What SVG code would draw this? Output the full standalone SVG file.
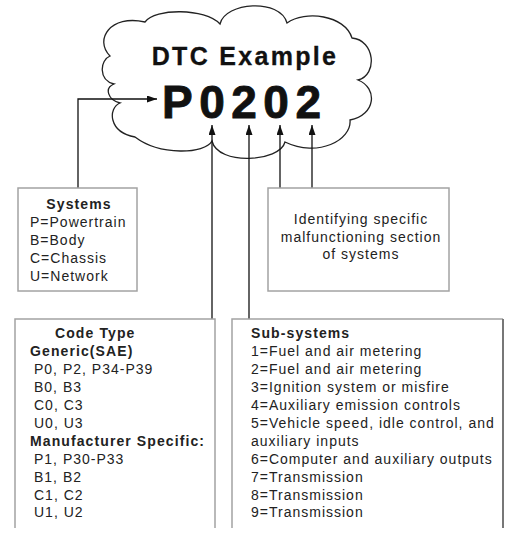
<svg xmlns="http://www.w3.org/2000/svg" width="514" height="538" viewBox="0 0 514 538">
<style>
.box{fill:#fff;stroke:#a3a3a3;stroke-width:1.5}
.obox{fill:none;stroke:#a3a3a3;stroke-width:1.5}
.t{font-family:"Liberation Sans",Arial,sans-serif;font-size:14px;letter-spacing:1px;fill:#222}
.b{font-weight:bold;letter-spacing:1.1px}
.con{fill:none;stroke:#111;stroke-width:1.3}
</style>
<defs>
<marker id="ah" markerUnits="userSpaceOnUse" markerWidth="11" markerHeight="8" refX="10" refY="3.5" orient="auto">
<path d="M0,0 L10,3.5 L0,7 z" fill="#111"/>
</marker>
</defs>
<rect width="514" height="538" fill="#fff"/>
<g id="cloud">
<path d="M145,22 C155,8 205,8 220,24 C225,2 280,-2 287,23 C305,10 345,15 352,38 C375,40 378,75 358,80 C378,88 376,115 350,120 C352,140 318,158 285,142 C280,162 218,166 212,141 C205,154 160,156 135,137 C108,132 108,108 120,103 C108,100 104,88 114,84 C98,80 100,60 110,56 C94,40 110,14 145,22 Z" fill="#fff" stroke="#222" stroke-width="1.3"/>
<text x="245" y="65" text-anchor="middle" font-family="'Liberation Sans',Arial,sans-serif" font-weight="bold" font-size="25" letter-spacing="2.3" fill="#111" stroke="#111" stroke-width="0.3">DTC Example</text>
<text x="162" y="118" font-family="'Liberation Sans',Arial,sans-serif" font-weight="bold" font-size="46" letter-spacing="6.5" fill="#111" stroke="#111" stroke-width="0.9">P0202</text>
</g>
<g id="connectors">
<path class="con" d="M78,188 V99 H157" marker-end="url(#ah)"/>
<path class="con" d="M212,319 V125" marker-end="url(#ah)"/>
<path class="con" d="M249,319 V125" marker-end="url(#ah)"/>
<path class="con" d="M280,188 V125" marker-end="url(#ah)"/>
<path class="con" d="M312,188 V125" marker-end="url(#ah)"/>
</g>
<g id="systems">
<rect class="box" x="18" y="188" width="119" height="103"/>
<text class="t b" x="79" y="209" text-anchor="middle">Systems</text>
<text class="t" x="30" y="227">P=Powertrain</text>
<text class="t" x="30" y="245">B=Body</text>
<text class="t" x="30" y="263">C=Chassis</text>
<text class="t" x="30" y="281">U=Network</text>
</g>
<g id="identifying">
<rect class="box" x="268" y="188" width="181" height="103"/>
<text class="t" x="361" y="224" text-anchor="middle">Identifying specific</text>
<text class="t" x="361" y="241.7" text-anchor="middle">malfunctioning section</text>
<text class="t" x="361" y="259.3" text-anchor="middle">of systems</text>
</g>
<g id="codetype">
<path class="obox" d="M15,528 V319 H215 V528"/>
<text class="t b" x="55" y="337.7">Code Type</text>
<text class="t b" x="30" y="355.7">Generic(SAE)</text>
<text class="t" x="34" y="373.5">P0, P2, P34-P39</text>
<text class="t" x="34" y="391.5">B0, B3</text>
<text class="t" x="34" y="409.5">C0, C3</text>
<text class="t" x="34" y="427.5">U0, U3</text>
<text class="t b" x="30" y="445.7">Manufacturer Specific:</text>
<text class="t" x="34" y="463.7">P1, P30-P33</text>
<text class="t" x="34" y="481.7">B1, B2</text>
<text class="t" x="34" y="499.5">C1, C2</text>
<text class="t" x="34" y="517.3">U1, U2</text>
</g>
<g id="subsystems">
<path class="obox" d="M232,528 V319 H503"/>
<path d="M503,319 V528" fill="none" stroke="#777" stroke-width="2"/>
<text class="t b" x="251" y="337.7">Sub-systems</text>
<text class="t" x="251" y="355.7">1=Fuel and air metering</text>
<text class="t" x="251" y="373.5">2=Fuel and air metering</text>
<text class="t" x="251" y="391.5">3=Ignition system or misfire</text>
<text class="t" x="251" y="409.5">4=Auxiliary emission controls</text>
<text class="t" x="251" y="427.5">5=Vehicle speed, idle control, and</text>
<text class="t" x="251" y="445.7">auxiliary inputs</text>
<text class="t" x="251" y="463.7">6=Computer and auxiliary outputs</text>
<text class="t" x="251" y="481.7">7=Transmission</text>
<text class="t" x="251" y="499.5">8=Transmission</text>
<text class="t" x="251" y="517.3">9=Transmission</text>
</g>
</svg>
